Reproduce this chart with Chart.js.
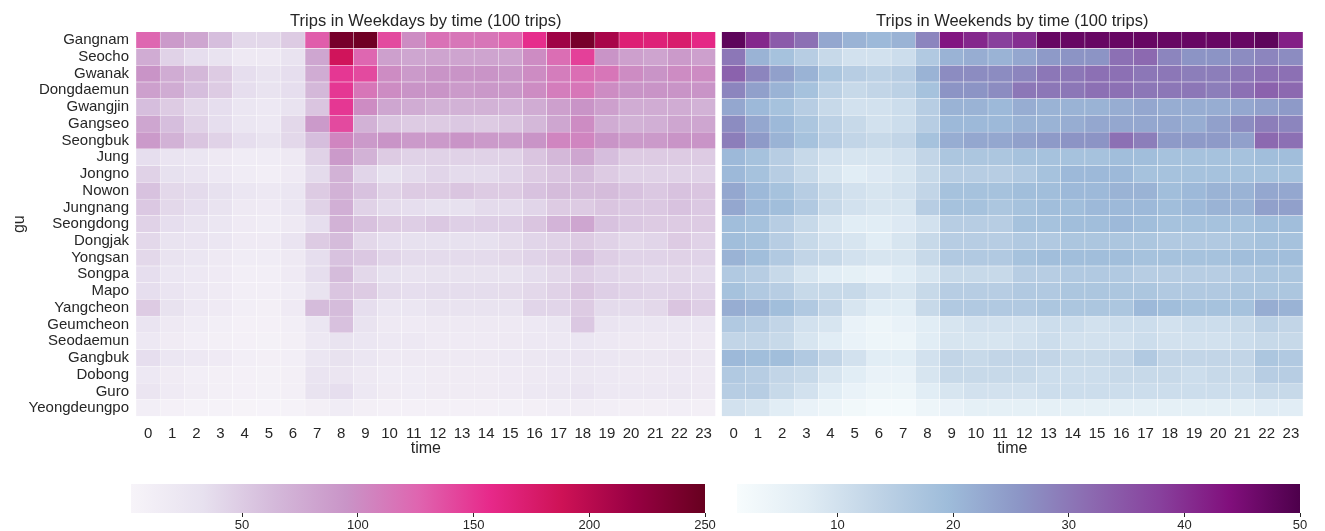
<!DOCTYPE html>
<html>
<head>
<meta charset="utf-8">
<script src="https://cdn.jsdelivr.net/npm/chart.js@4.4.0/dist/chart.umd.min.js"></script>
<style>
  body { margin: 0; background: #fff; width: 1325px; height: 531px; overflow: hidden; position: relative; }
  canvas { position: absolute; }
</style>
</head>
<body>
<canvas id="wd" width="720" height="460" style="left:0;top:0"></canvas>
<canvas id="we" width="605" height="460" style="left:720px;top:0"></canvas>
<canvas id="cbWd" width="720" height="61" style="left:0;top:470px"></canvas>
<canvas id="cbWe" width="605" height="61" style="left:720px;top:470px"></canvas>
<script>
const gus = ['Gangnam', 'Seocho', 'Gwanak', 'Dongdaemun', 'Gwangjin', 'Gangseo', 'Seongbuk', 'Jung',
  'Jongno', 'Nowon', 'Jungnang', 'Seongdong', 'Dongjak', 'Yongsan', 'Songpa', 'Mapo', 'Yangcheon',
  'Geumcheon', 'Seodaemun', 'Gangbuk', 'Dobong', 'Guro', 'Yeongdeungpo'];
const hours = [0, 1, 2, 3, 4, 5, 6, 7, 8, 9, 10, 11, 12, 13, 14, 15, 16, 17, 18, 19, 20, 21, 22, 23];
const hourLabels = hours.map(String);

// weekday trips (100 trips), one row per gu, hours 0..23
const weekday = [
  [125, 90, 80, 60, 40, 40, 50, 130, 240, 245, 140, 100, 118, 115, 115, 125, 155, 215, 240, 210, 170, 168, 175, 160],
  [75, 45, 35, 30, 20, 20, 30, 80, 185, 125, 85, 80, 82, 82, 82, 82, 100, 120, 145, 95, 85, 82, 90, 85],
  [95, 75, 65, 50, 35, 30, 35, 75, 150, 140, 100, 90, 95, 95, 95, 92, 100, 110, 120, 115, 100, 95, 100, 100],
  [85, 75, 60, 50, 35, 30, 35, 65, 150, 115, 100, 95, 95, 90, 92, 92, 100, 110, 115, 100, 95, 95, 95, 95],
  [60, 50, 40, 35, 25, 22, 30, 55, 150, 100, 80, 75, 70, 70, 70, 68, 75, 85, 95, 85, 75, 75, 75, 70],
  [80, 60, 45, 35, 25, 22, 40, 90, 140, 70, 55, 50, 50, 52, 50, 55, 65, 80, 100, 75, 70, 72, 80, 80],
  [90, 70, 55, 45, 35, 30, 40, 60, 105, 90, 95, 90, 90, 95, 90, 88, 95, 105, 105, 95, 90, 90, 95, 95],
  [35, 28, 25, 20, 15, 15, 20, 45, 90, 70, 50, 45, 45, 45, 45, 45, 55, 65, 80, 60, 50, 50, 50, 50],
  [45, 33, 28, 22, 15, 12, 18, 38, 70, 42, 33, 38, 42, 38, 38, 42, 50, 55, 62, 50, 45, 45, 45, 45],
  [57, 40, 38, 33, 25, 22, 25, 50, 70, 57, 45, 50, 50, 55, 50, 50, 57, 62, 62, 62, 57, 52, 57, 55],
  [52, 40, 35, 30, 20, 18, 25, 45, 72, 45, 38, 35, 33, 33, 38, 38, 42, 50, 50, 55, 52, 52, 57, 52],
  [45, 35, 30, 25, 18, 15, 20, 35, 70, 58, 50, 48, 52, 47, 47, 47, 55, 68, 80, 57, 52, 50, 50, 50],
  [40, 30, 28, 25, 18, 18, 28, 50, 62, 40, 35, 33, 33, 33, 33, 37, 42, 45, 50, 45, 40, 42, 50, 45],
  [40, 30, 25, 20, 15, 15, 20, 35, 57, 52, 42, 38, 38, 38, 38, 40, 44, 48, 60, 48, 44, 44, 45, 44],
  [35, 25, 22, 18, 12, 12, 18, 35, 62, 40, 33, 30, 32, 32, 32, 32, 36, 40, 48, 42, 40, 38, 40, 38],
  [35, 28, 22, 18, 12, 12, 15, 30, 55, 50, 38, 35, 36, 36, 36, 37, 40, 45, 55, 47, 44, 42, 44, 42],
  [50, 32, 22, 18, 12, 10, 18, 62, 62, 35, 25, 25, 30, 30, 30, 30, 42, 42, 50, 38, 38, 40, 55, 48],
  [28, 20, 15, 12, 8, 8, 12, 25, 58, 30, 20, 18, 20, 20, 20, 20, 22, 25, 52, 28, 25, 25, 25, 25],
  [22, 16, 12, 10, 8, 7, 10, 22, 30, 25, 22, 22, 18, 18, 18, 20, 22, 22, 25, 22, 20, 20, 22, 20],
  [35, 25, 22, 18, 12, 10, 12, 25, 32, 25, 20, 20, 20, 20, 20, 22, 24, 25, 28, 25, 24, 24, 26, 24],
  [22, 16, 12, 10, 8, 7, 10, 28, 26, 20, 15, 15, 16, 16, 16, 18, 20, 22, 24, 22, 20, 20, 22, 20],
  [26, 18, 14, 10, 8, 7, 10, 30, 35, 22, 16, 15, 16, 16, 16, 18, 22, 24, 28, 22, 22, 22, 24, 20],
  [12, 8, 6, 5, 4, 3, 5, 10, 15, 10, 8, 8, 8, 8, 8, 9, 10, 12, 14, 12, 10, 10, 12, 10]
];

// weekend trips (100 trips)
const weekend = [
  [48, 41, 34, 31, 23, 21, 20, 21, 28, 43, 41, 38, 40, 47, 47, 47, 47, 47, 47, 47, 47, 47, 48, 42],
  [30, 21, 18, 15, 12, 10, 10, 11, 16, 21, 22, 21, 23, 25, 26, 26, 31, 32, 28, 26, 26, 27, 28, 27],
  [33, 28, 24, 21, 17, 15, 14, 15, 21, 27, 27, 27, 28, 30, 30, 31, 31, 30, 30, 29, 29, 30, 31, 31],
  [28, 24, 21, 18, 14, 12, 13, 14, 18, 26, 26, 27, 30, 30, 30, 31, 31, 30, 30, 30, 29, 31, 33, 32],
  [23, 20, 18, 15, 12, 10, 10, 11, 15, 21, 21, 20, 22, 21, 21, 21, 22, 23, 22, 22, 22, 23, 24, 25],
  [27, 23, 20, 17, 14, 12, 10, 11, 15, 20, 20, 20, 21, 21, 22, 23, 23, 23, 23, 22, 24, 27, 29, 28],
  [29, 25, 21, 18, 15, 13, 12, 13, 18, 22, 23, 23, 24, 25, 26, 26, 31, 29, 25, 25, 25, 24, 32, 31],
  [20, 18, 15, 12, 10, 9, 9, 10, 13, 17, 17, 17, 18, 18, 18, 18, 19, 19, 18, 18, 18, 18, 19, 19],
  [20, 18, 15, 12, 9, 7, 8, 9, 12, 15, 15, 15, 16, 18, 20, 20, 20, 18, 18, 18, 18, 18, 18, 18],
  [23, 20, 18, 15, 12, 10, 9, 10, 13, 18, 18, 18, 19, 19, 20, 20, 21, 21, 19, 20, 21, 21, 23, 23],
  [23, 20, 19, 16, 12, 10, 9, 9, 15, 18, 18, 17, 18, 19, 19, 20, 20, 20, 19, 20, 21, 21, 24, 24],
  [19, 18, 15, 12, 9, 7, 7, 8, 10, 15, 15, 15, 18, 18, 19, 19, 20, 19, 18, 18, 18, 18, 19, 19],
  [19, 18, 15, 12, 10, 9, 7, 9, 12, 15, 15, 15, 16, 16, 17, 17, 17, 17, 16, 16, 16, 17, 18, 18],
  [21, 19, 16, 13, 12, 10, 9, 9, 12, 16, 16, 16, 18, 19, 19, 19, 19, 18, 18, 18, 18, 19, 19, 19],
  [16, 15, 12, 9, 7, 6, 5, 7, 9, 12, 12, 12, 15, 15, 16, 16, 16, 15, 15, 15, 15, 16, 17, 17],
  [18, 16, 15, 12, 12, 12, 10, 9, 12, 15, 15, 15, 16, 16, 17, 17, 17, 17, 16, 16, 16, 17, 17, 17],
  [22, 21, 19, 16, 13, 9, 7, 7, 12, 16, 16, 16, 16, 17, 17, 17, 17, 20, 19, 18, 18, 18, 22, 21],
  [16, 15, 13, 10, 9, 5, 4, 5, 7, 9, 10, 10, 10, 11, 11, 10, 11, 11, 10, 11, 11, 12, 14, 13],
  [13, 13, 12, 9, 7, 5, 4, 4, 7, 9, 9, 9, 10, 11, 10, 10, 10, 11, 10, 10, 10, 11, 12, 12],
  [20, 19, 19, 16, 13, 10, 7, 7, 10, 13, 12, 13, 13, 13, 12, 12, 13, 16, 13, 13, 13, 13, 17, 16],
  [16, 15, 13, 12, 9, 7, 5, 5, 9, 12, 12, 12, 12, 11, 11, 11, 12, 12, 12, 11, 12, 12, 15, 15],
  [15, 15, 12, 10, 7, 5, 4, 4, 7, 9, 10, 10, 10, 11, 11, 11, 11, 11, 11, 11, 11, 11, 12, 12],
  [10, 9, 7, 5, 4, 3, 2, 2, 4, 5, 6, 6, 6, 6, 6, 6, 6, 6, 6, 6, 6, 6, 7, 7]
];

const wdRange = [2, 250];
const weRange = [1.3, 50];
const wdTicks = [50, 100, 150, 200, 250];
const weTicks = [10, 20, 30, 40, 50];

const PuRd = ['#f7f4f9', '#e7e1ef', '#d4b9da', '#c994c7', '#df65b0', '#e7298a', '#ce1256', '#980043', '#67001f'];
const BuPu = ['#f7fcfd', '#e0ecf4', '#bfd3e6', '#9ebcda', '#8c96c6', '#8c6bb1', '#88419d', '#810f7c', '#4d004b'];

function rgb(hex) {
  return [1, 3, 5].map(i => parseInt(hex.slice(i, i + 2), 16));
}

function cmap(stops, t) {
  t = Math.max(0, Math.min(1, t));
  const p = t * (stops.length - 1);
  const i = Math.min(Math.floor(p), stops.length - 2);
  const f = p - i;
  const a = rgb(stops[i]), b = rgb(stops[i + 1]);
  const c = a.map((v, k) => Math.round(v + (b[k] - v) * f));
  return `rgb(${c[0]},${c[1]},${c[2]})`;
}

Chart.defaults.font.family = '"Liberation Sans", Arial, sans-serif';
Chart.defaults.color = '#262626';

function heatmap(id, title, values, stops, range, showY, pad) {
  const cells = [];
  gus.forEach((g, r) => hours.forEach(h => cells.push({x: [h, h + 1], y: g, v: values[r][h]})));
  return new Chart(document.getElementById(id), {
    type: 'bar',
    data: {
      labels: gus,
      datasets: [{
        data: cells,
        backgroundColor: c => c.raw ? cmap(stops, (c.raw.v - range[0]) / (range[1] - range[0])) : '#fff',
        borderColor: 'rgba(255,255,255,0.55)',
        borderWidth: 0.5,
        borderSkipped: false,
        barPercentage: 1,
        categoryPercentage: 1
      }]
    },
    options: {
      indexAxis: 'y',
      responsive: false,
      animation: false,
      devicePixelRatio: 1,
      layout: {padding: pad},
      plugins: {
        legend: {display: false},
        tooltip: {enabled: false},
        title: {
          display: true, text: title, fullSize: false, color: '#262626',
          font: {size: 16.5, weight: 'normal'}, padding: {top: 12, bottom: 0}
        }
      },
      scales: {
        x: {
          type: 'linear', min: 0, max: 24,
          grid: {display: false, drawTicks: false},
          border: {display: false},
          afterBuildTicks: s => { s.ticks = hours.map(h => ({value: h + 0.5})); },
          afterFit: s => { s.height = 43.5; },
          ticks: {callback: v => hourLabels[Math.floor(v)], font: {size: 15}, padding: 8, maxRotation: 0, autoSkip: false},
          title: {display: true, text: 'time', font: {size: 16}, padding: {top: 0, bottom: 2}}
        },
        y: {
          type: 'category',
          display: showY,
          grid: {display: false, drawTicks: false},
          border: {display: false},
          afterFit: s => { if (showY) s.width = 136; },
          ticks: {font: {size: 15}, padding: 7, autoSkip: false},
          title: {display: true, text: 'gu', font: {size: 16}, padding: {top: 10, bottom: 0}}
        }
      }
    }
  });
}

function colorbar(id, stops, range, ticks, pad) {
  return new Chart(document.getElementById(id), {
    type: 'bar',
    data: {
      labels: [''],
      datasets: [{
        data: [range],
        backgroundColor: c => {
          const a = c.chart.chartArea;
          if (!a) return null;
          const g = c.chart.ctx.createLinearGradient(a.left, 0, a.right, 0);
          stops.forEach((s, i) => g.addColorStop(i / (stops.length - 1), s));
          return g;
        },
        borderWidth: 0,
        barPercentage: 1,
        categoryPercentage: 1
      }]
    },
    options: {
      indexAxis: 'y',
      responsive: false,
      animation: false,
      devicePixelRatio: 1,
      layout: {padding: pad},
      plugins: {legend: {display: false}, tooltip: {enabled: false}},
      scales: {
        y: {display: false},
        x: {
          type: 'linear', min: range[0], max: range[1],
          grid: {drawOnChartArea: false, drawTicks: true, tickLength: 4, color: '#262626'},
          border: {display: false},
          afterBuildTicks: s => { s.ticks = ticks.map(v => ({value: v})); },
          afterFit: s => { s.height = 18; },
          ticks: {font: {size: 13}, padding: 1, maxRotation: 0, autoSkip: false}
        }
      }
    }
  });
}

heatmap('wd', 'Trips in Weekdays by time (100 trips)', weekday, PuRd, wdRange, true, {left: 0, right: 3.5});
heatmap('we', 'Trips in Weekends by time (100 trips)', weekend, BuPu, weRange, false, {left: 1.5, right: 22});
colorbar('cbWd', PuRd, wdRange, wdTicks, {left: 131, right: 15, top: 14});
colorbar('cbWe', BuPu, weRange, weTicks, {left: 17, right: 25, top: 14});
</script>
</body>
</html>
